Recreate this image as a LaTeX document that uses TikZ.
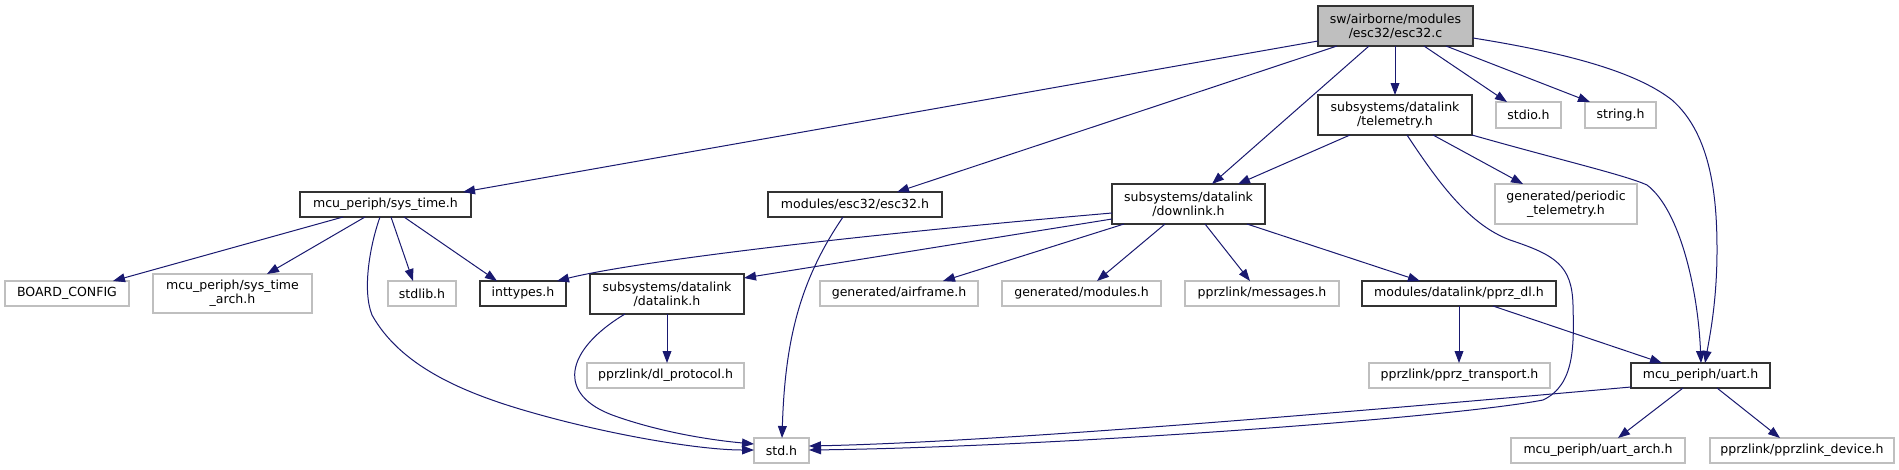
\documentclass[tikz,border=0pt]{standalone}
\usepackage{fontspec}
\setmainfont{DejaVu Sans}
\usetikzlibrary{arrows.meta,calc}
\definecolor{edgeblue}{HTML}{191970}
\definecolor{greyline}{HTML}{BFBFBF}
\definecolor{mainfill}{HTML}{BFBFBF}
\definecolor{docline}{HTML}{333333}
\tikzset{
  box/.style={draw, inner sep=0pt, outer sep=0pt, align=center, text=black,
    font=\fontsize{9.4pt}{10.7pt}\selectfont},
  doc/.style={draw=docline, line width=0.85pt},
  undoc/.style={draw=greyline, line width=0.8pt},
  main/.style={draw=docline, line width=0.85pt, fill=mainfill},
  dep/.style={draw=edgeblue, line width=0.75pt, -{Triangle[length=9pt,width=6.6pt]}},
}
\newcommand\bx[7][]{\node[box,#1,minimum width={(#5-#3)*0.75pt},minimum height={(#6-#4)*0.75pt}] (#2) at ({(#3+#5)/2},{(#4+#6)/2}) {#7};}
\begin{document}
\begin{tikzpicture}[x=0.75pt,y=-0.75pt]
\fill[white] (0,0) rectangle (1899,469);
\useasboundingbox (0,0) rectangle (1899,469);
% nodes
\bx[main]{esc}{1318}{6}{1473}{46}{sw/airborne/modules\\/esc32/esc32.c}
\bx[doc]{tel}{1318}{95}{1472}{135}{subsystems/datalink\\/telemetry.h}
\bx[undoc]{stdio}{1496}{102}{1561}{128}{stdio.h}
\bx[undoc]{string}{1585}{102}{1656}{128}{string.h}
\bx[doc]{sys}{300}{192}{471}{217}{mcu\_periph/sys\_time.h}
\bx[doc]{escH}{768}{192}{942}{217}{modules/esc32/esc32.h}
\bx[doc]{dl}{1112}{184}{1265}{224}{subsystems/datalink\\/downlink.h}
\bx[undoc]{per}{1495}{184}{1637}{224}{generated/periodic\\\_telemetry.h}
\bx[undoc]{board}{5}{281}{129}{306}{BOARD\_CONFIG}
\bx[undoc]{arch}{153}{274}{312}{313}{mcu\_periph/sys\_time\\\_arch.h}
\bx[undoc]{stdlib}{388}{281}{456}{306}{stdlib.h}
\bx[doc]{intt}{480}{281}{566}{306}{inttypes.h}
\bx[doc]{datal}{590}{274}{744}{314}{subsystems/datalink\\/datalink.h}
\bx[undoc]{air}{820}{281}{978}{306}{generated/airframe.h}
\bx[undoc]{mods}{1002}{281}{1161}{306}{generated/modules.h}
\bx[undoc]{msgs}{1185}{281}{1339}{306}{pprzlink/messages.h}
\bx[doc]{pdl}{1362}{281}{1556}{306}{modules/datalink/pprz\_dl.h}
\bx[undoc]{dlp}{587}{363}{744}{388}{pprzlink/dl\_protocol.h}
\bx[undoc]{ptr}{1369}{363}{1550}{388}{pprzlink/pprz\_transport.h}
\bx[doc]{uart}{1631}{363}{1770}{388}{mcu\_periph/uart.h}
\bx[undoc]{std}{754}{438}{809}{463}{std.h}
\bx[undoc]{uarch}{1511}{438}{1685}{463}{mcu\_periph/uart\_arch.h}
\bx[undoc]{dev}{1710}{438}{1894}{463}{pprzlink/pprzlink\_device.h}
% edges from esc32.c
\draw[dep] (esc.west |- 0,41) -- (sys.north -| 463,0);
\draw[dep] (esc.south -| 1337,0) -- (escH.north -| 897,0);
\draw[dep] (esc.south -| 1369,0) -- (dl.north -| 1212,0);
\draw[dep] (esc.south -| 1395,0) -- (tel.north -| 1395,0);
\draw[dep] (esc.south -| 1424,0) -- (stdio.north -| 1507,0);
\draw[dep] (esc.south -| 1446,0) -- (string.north -| 1590,0);
\draw[dep] (esc.east |- 0,38) .. controls (1580,55) and (1640,75) .. (1672,100)
  .. controls (1712,135) and (1717,200) .. (1717,250)
  .. controls (1717,300) and (1710,335) .. (uart.north -| 1705,0);
% telemetry.h
\draw[dep] (tel.south -| 1350,0) -- (dl.north -| 1238,0);
\draw[dep] (tel.south -| 1433,0) -- (per.north -| 1523,0);
\draw[dep] (tel.east |- 0,135) .. controls (1560,160) and (1625,175) .. (1647,185)
  .. controls (1680,210) and (1698,290) .. (uart.north -| 1701,0);
\draw[dep] (tel.south -| 1407,0) .. controls (1440,185) and (1470,225) .. (1510,240)
  .. controls (1555,255) and (1572,265) .. (1573,305)
  .. controls (1574,345) and (1575,385) .. (1543,400)
  .. controls (1450,418) and (1050,447) .. (std.east |- 0,450);
% sys_time.h
\draw[dep] (sys.south -| 343,0) -- (board.north -| 113,0);
\draw[dep] (sys.south -| 365,0) -- (arch.north -| 267,0);
\draw[dep] (sys.south -| 391,0) -- (stdlib.north -| 413,0);
\draw[dep] (sys.south -| 404,0) -- (intt.north -| 497,0);
\draw[dep] (sys.south -| 380,0) .. controls (370,245) and (362,290) .. (372,315)
  .. controls (400,365) and (460,392) .. (530,412)
  .. controls (610,435) and (700,450) .. (std.west |- 0,450);
% esc32.h
\draw[dep] (escH.south -| 843,0) .. controls (800,280) and (785,340) .. (std.north -| 782,0);
% downlink.h
\draw[dep] (dl.west |- 0,213) .. controls (800,240) and (620,265) .. (intt.north -| 557,0);
\draw[dep] (dl.west |- 0,219) -- (datal.east |- 0,278);
\draw[dep] (dl.south -| 1124,0) -- (air.north -| 943,0);
\draw[dep] (dl.south -| 1165,0) -- (mods.north -| 1097,0);
\draw[dep] (dl.south -| 1205,0) -- (msgs.north -| 1250,0);
\draw[dep] (dl.south -| 1247,0) -- (pdl.north -| 1420,0);
% datalink.h
\draw[dep] (datal.south -| 667,0) -- (dlp.north -| 667,0);
\draw[dep] (datal.south -| 625,0) .. controls (565,350) and (555,395) .. (615,416)
  .. controls (660,432) and (710,440) .. (std.west |- 0,444);
% pprz_dl.h
\draw[dep] (pdl.south -| 1459,0) -- (ptr.north -| 1459,0);
\draw[dep] (pdl.south -| 1493,0) -- (uart.north -| 1662,0);
% uart.h
\draw[dep] (uart.west |- 0,387) .. controls (1350,412) and (1000,442) .. (std.east |- 0,446);
\draw[dep] (uart.south -| 1683,0) -- (uarch.north -| 1618,0);
\draw[dep] (uart.south -| 1717,0) -- (dev.north -| 1780,0);
\end{tikzpicture}
\end{document}
